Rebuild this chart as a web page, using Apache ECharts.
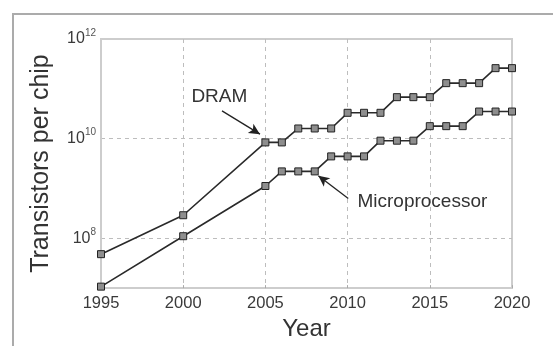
<!DOCTYPE html>
<html>
<head>
<meta charset="utf-8">
<script src="https://cdn.jsdelivr.net/npm/echarts@6/dist/echarts.min.js"></script>
<style>
html,body{margin:0;padding:0;background:#fff;}
#c{width:553px;height:346px;}
</style>
</head>
<body>
<div id="c"></div>
<script>
// ---- data ----
var years = [1995, 2000, 2005, 2006, 2007, 2008, 2009, 2010, 2011, 2012, 2013, 2014, 2015, 2016, 2017, 2018, 2019, 2020];
var dram  = [4.8e7, 2.9e8, 8.4e9, 8.4e9, 1.6e10, 1.6e10, 1.6e10, 3.3e10, 3.3e10, 3.3e10, 6.8e10, 6.8e10, 6.8e10, 1.3e11, 1.3e11, 1.3e11, 2.6e11, 2.6e11];
var micro = [1.07e7, 1.1e8, 1.12e9, 2.2e9, 2.2e9, 2.2e9, 4.4e9, 4.4e9, 4.4e9, 9.1e9, 9.1e9, 9.1e9, 1.78e10, 1.78e10, 1.78e10, 3.5e10, 3.5e10, 3.5e10];
var xTicks = [1995, 2000, 2005, 2010, 2015, 2020];
var yLabelExponents = [8, 10, 12];
// annotations (data coordinates)
var dramArrow  = [[2002.36, 3.6e10], [2004.67, 1.23e10]];
var dramLabel  = [2002.2, 7.0e10];
var microArrow = [[2010.04, 6.3e8], [2008.22, 1.8e9]];
var microLabel = [2010.6, 5.3e8];

function pairs(xs, ys){ return xs.map(function(x,i){ return [x, ys[i]]; }); }

var font = '"Liberation Sans", Arial, sans-serif';
var chart = echarts.init(document.getElementById('c'), null, {renderer:'canvas'});

var lineStyle = {color:'#2a2a2a', width:1.6};
var itemStyle = {color:'#8e8e8e', borderColor:'#222', borderWidth:1};

function arrowLine(a){
  return {
    silent:true, symbol:['none','arrow'], symbolSize:[8,11],
    lineStyle:{color:'#222', width:1.3, type:'solid'},
    label:{show:false},
    data:[[{coord:a[0]},{coord:a[1]}]]
  };
}
function textPoint(name, c, align){
  return {
    silent:true, symbol:'circle', symbolSize:0,
    label:{show:true, formatter:name, position:'inside', align:align, verticalAlign:'middle',
      fontFamily:font, fontSize:19, color:'#333'},
    data:[{coord:c}]
  };
}

chart.setOption({
  animation:false,
  textStyle:{fontFamily:font},
  grid:{left:101, top:39, right:41, bottom:50, show:true, borderColor:'#cdcdcd', borderWidth:2, backgroundColor:'transparent'},
  graphic:[{type:'rect', shape:{x:13, y:14, width:700, height:500}, style:{fill:'none', stroke:'#ababab', lineWidth:2}, z:-1}],
  xAxis:{
    type:'value', min:1995, max:2020, interval:5,
    name:'Year', nameLocation:'middle', nameGap:25,
    nameTextStyle:{fontSize:24, color:'#333', fontFamily:font},
    axisLine:{show:true, lineStyle:{color:'#cdcdcd', width:2}},
    axisTick:{show:true, inside:true, length:3, lineStyle:{color:'#aaa'}},
    axisLabel:{fontSize:16.5, color:'#3a3a3a', margin:7, fontFamily:font,
      formatter:function(v){ return xTicks.indexOf(v) >= 0 ? String(v) : ''; }},
    splitLine:{show:true, lineStyle:{color:['transparent','#bdbdbd','#bdbdbd','#bdbdbd','#bdbdbd','transparent'], type:[4,4], width:1}}
  },
  yAxis:{
    type:'log', logBase:10, min:1e7, max:1e12, interval:1,
    name:'Transistors per chip', nameLocation:'middle', nameGap:47, nameRotate:90,
    nameTextStyle:{fontSize:25, color:'#333', fontFamily:font},
    axisLine:{show:true, lineStyle:{color:'#cdcdcd', width:2}},
    axisTick:{show:false},
    axisLabel:{color:'#3a3a3a', margin:5, fontFamily:font,
      formatter:function(v){
        var e = Math.round(Math.log(v)/Math.LN10);
        return yLabelExponents.indexOf(e) >= 0 ? '{b|10}{s|' + e + '}' : '';
      },
      rich:{b:{fontSize:16, color:'#3a3a3a', fontFamily:font},
            s:{fontSize:10, color:'#555', fontFamily:font, padding:[0,0,12,0]}}
    },
    splitLine:{show:true, lineStyle:{color:['transparent','#bdbdbd','transparent','#bdbdbd','transparent','transparent'], type:[4,4], width:1}}
  },
  series:[
    {type:'line', name:'DRAM', data:pairs(years, dram), symbol:'rect', symbolSize:7,
     lineStyle:lineStyle, itemStyle:itemStyle, emphasis:{disabled:true},
     markLine:arrowLine(dramArrow), markPoint:textPoint('DRAM', dramLabel, 'center')},
    {type:'line', name:'Microprocessor', data:pairs(years, micro), symbol:'rect', symbolSize:7,
     lineStyle:lineStyle, itemStyle:itemStyle, emphasis:{disabled:true},
     markLine:arrowLine(microArrow), markPoint:textPoint('Microprocessor', microLabel, 'left')}
  ]
});
</script>
</body>
</html>
